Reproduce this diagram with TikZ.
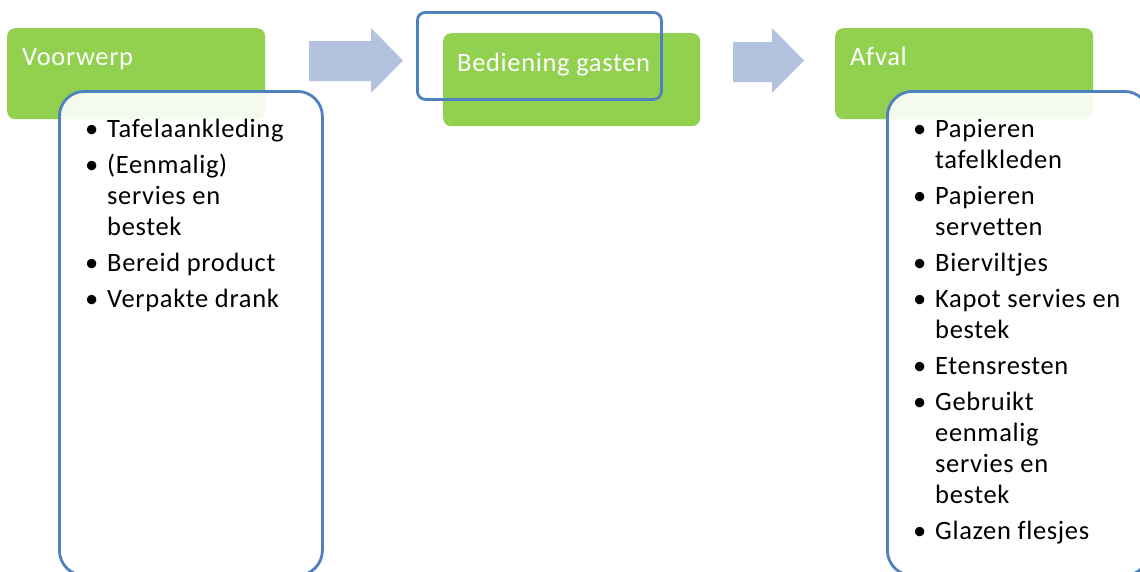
\documentclass[tikz,border=0pt]{standalone}
\usepackage{fontspec}
\setmainfont[LetterSpace=2.5,Ligatures=NoCommon]{Carlito}
\usepackage{array}
\definecolor{greenc}{RGB}{146,208,80}
\definecolor{bluec}{RGB}{79,129,189}
\definecolor{arrowc}{RGB}{179,194,222}
\tikzset{
  greenbox/.style={fill=greenc, rounded corners=8pt, inner sep=0pt, anchor=north west},
  listbox/.style={draw=bluec, line width=2.8pt, fill=white, fill opacity=0.9, rounded corners=25pt, inner sep=0pt, anchor=north west},
  outlinebox/.style={draw=bluec, line width=2.8pt, rounded corners=8pt, inner sep=0pt, anchor=north west},
  headtext/.style={text=white, font=\fontsize{26.5}{31}\selectfont, inner sep=0pt, anchor=base west},
  listtext/.style={text=black, font=\fontsize{26.5}{31}\selectfont, inner sep=0pt, anchor=base west, align=left},
  flowarrow/.style={fill=arrowc}
}
\begin{document}
\begin{tikzpicture}[x=1pt,y=-1pt]
\useasboundingbox (0,0) rectangle (1140,571);
\clip (0,0) rectangle (1140,571);
% left column
\node[greenbox, minimum width=258pt, minimum height=91pt] (g1) at (7,28) {};
\node[headtext] (t1) at (22,65) {Voorwerp};
\node[listbox, minimum width=263pt, minimum height=484pt] (w1) at (58,90) {};
\node[listtext] (l1) at (85,137) {%
\begin{tabular}[t]{@{}p{22pt}@{}l@{}}
•&Tafelaankleding\\[5pt]
•&(Eenmalig)\\
&servies en\\
&bestek\\[5pt]
•&Bereid product\\[5pt]
•&Verpakte drank
\end{tabular}};
% arrow 1
\fill[flowarrow] (309,41) -- (371,41) -- (371,28) -- (403,60.5) -- (371,93) -- (371,81) -- (309,81) -- cycle;
% middle
\node[greenbox, minimum width=257pt, minimum height=93pt] (g2) at (443,33) {};
\node[headtext] (t2) at (457,71) {Bediening gasten};
\node[outlinebox, minimum width=244pt, minimum height=87pt] (o2) at (416,11) {};
% arrow 2
\fill[flowarrow] (733,42) -- (772,42) -- (772,28) -- (804,60.5) -- (772,93) -- (772,82) -- (733,82) -- cycle;
% right column
\node[greenbox, minimum width=258pt, minimum height=91pt] (g3) at (835,28) {};
\node[headtext] (t3) at (850,65) {Afval};
\node[listbox, minimum width=262pt, minimum height=484pt] (w3) at (886,90) {};
\node[listtext] (l3) at (913,137) {%
\begin{tabular}[t]{@{}p{22pt}@{}l@{}}
•&Papieren\\
&tafelkleden\\[5pt]
•&Papieren\\
&servetten\\[5pt]
•&Bierviltjes\\[5pt]
•&Kapot servies en\\
&bestek\\[5pt]
•&Etensresten\\[5pt]
•&Gebruikt\\
&eenmalig\\
&servies en\\
&bestek\\[5pt]
•&Glazen flesjes
\end{tabular}};
\end{tikzpicture}
\end{document}
